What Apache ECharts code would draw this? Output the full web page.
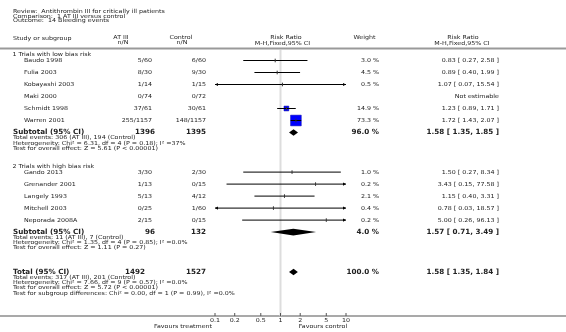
<!DOCTYPE html>
<html lang="en">
<head>
<meta charset="UTF-8">
<title>Bleeding events</title>
<script type="text/javascript" src="https://cdn.jsdelivr.net/npm/echarts@6/dist/echarts.min.js"></script>
<style>html,body{margin:0;padding:0;background:#fff}</style>
</head>
<body>
<div id="main" style="width: 566px; height: 332px;"></div>

<script type="text/javascript">
// study level data
var studyNames = ['Baudo 1998', 'Fulia 2003', 'Kobayashi 2003', 'Maki 2000', 'Schmidt 1998', 'Warren 2001',
                  'Gando 2013', 'Grenander 2001', 'Langely 1993', 'Mitchell 2003', 'Neporada 2008A'];
var studyGroup = [0, 0, 0, 0, 0, 0, 1, 1, 1, 1, 1];
var treatEvents = ['5/60', '8/30', '1/14', '0/74', '37/61', '255/1157', '3/30', '1/13', '5/13', '0/25', '2/15'];
var ctrlEvents = ['6/60', '9/30', '1/15', '0/72', '30/61', '148/1157', '2/30', '0/15', '4/12', '1/60', '0/15'];
var riskRatio = [0.83, 0.89, 1.07, null, 1.23, 1.72, 1.50, 3.43, 1.15, 0.78, 5.00];
var ciLow = [0.27, 0.40, 0.07, null, 0.89, 1.43, 0.27, 0.15, 0.40, 0.03, 0.26];
var ciHigh = [2.58, 1.99, 15.54, null, 1.71, 2.07, 8.34, 77.58, 3.31, 18.57, 96.13];
var weights = [3.0, 4.5, 0.5, null, 14.9, 73.3, 1.0, 0.2, 2.1, 0.4, 0.2];

// subgroups, then the overall total
var groupNames = ['1 Trials with low bias risk', '2 Trials with high bias risk'];
var pooledLabels = ['Subtotal (95% CI)', 'Subtotal (95% CI)', 'Total (95% CI)'];
var pooledTreatN = [1396, 96, 1492];
var pooledCtrlN = [1395, 132, 1527];
var pooledRr = [1.58, 1.57, 1.58];
var pooledLow = [1.35, 0.71, 1.35];
var pooledHigh = [1.85, 3.49, 1.84];
var pooledWeight = [96.0, 4.0, 100.0];
var pooledNotes = [
    ['Total events: 306 (AT III), 194 (Control)',
     'Heterogeneity: Chi\u00b2 = 6.31, df = 4 (P = 0.18); I\u00b2 =37%',
     'Test for overall effect: Z = 5.61 (P < 0.00001)'],
    ['Total events: 11 (AT III), 7 (Control)',
     'Heterogeneity: Chi\u00b2 = 1.35, df = 4 (P = 0.85); I\u00b2 =0.0%',
     'Test for overall effect: Z = 1.11 (P = 0.27)'],
    ['Total events: 317 (AT III), 201 (Control)',
     'Heterogeneity: Chi\u00b2 = 7.66, df = 9 (P = 0.57); I\u00b2 =0.0%',
     'Test for overall effect: Z = 5.72 (P < 0.00001)',
     'Test for subgroup differences: Chi\u00b2 = 0.00, df = 1 (P = 0.99), I\u00b2 =0.0%']
];
var titleLines = ['Review:  Antithrombin III for critically ill patients',
                  'Comparison:  1 AT III versus control',
                  'Outcome:  14 Bleeding events'];
var tickValues = [0.1, 0.2, 0.5, 1, 2, 5, 10];
var favourLabels = ['Favours treatment', 'Favours control'];

var AXMIN = 0.1, AXMAX = 10;
var FONT = 'DejaVu Sans';
var TXT = '#222';
// small text: short glyphs but wide advances, like hinted Verdana
var SM = 5.5, SX = 1.15, BIG = 7.2;
var AXIS_Y = 316;

// row layout (y in pixels, the y axis runs 0..332)
var studyY = [], pooledY = [], notesY = [], headerY = [];
var y = 55;
for (var g = 0; g < 2; g++) {
    headerY.push(y);
    y += 5.5;
    var first = true;
    for (var i = 0; i < studyNames.length; i++) {
        if (studyGroup[i] !== g) continue;
        if (!first) y += 12;
        first = false;
        studyY[i] = y;
    }
    y += 12;
    pooledY.push(y);
    y += 5.5;
    var ny = [];
    for (var k = 0; k < pooledNotes[g].length; k++) { ny.push(y); y += 5.2; }
    notesY.push(ny);
    y += 13;
}
y = y - 13 + 18.8;
pooledY.push(y);
y += 5.5;
var lastNotes = [];
for (var k = 0; k < pooledNotes[2].length; k++) { lastNotes.push(y); y += 5.2; }
notesY.push(lastNotes);

function txt(s, x, yy, align, size, bold) {
    return {
        type: 'text', x: x, y: yy, silent: true,
        scaleX: bold ? 1 : SX,
        style: {
            text: s, fill: TXT, fontFamily: FONT, fontSize: size || SM,
            fontWeight: bold ? 'bold' : 'normal',
            align: align || 'left', verticalAlign: 'middle'
        }
    };
}
function fmtRr(r, lo, hi) {
    return r.toFixed(2) + ' [ ' + lo.toFixed(2) + ', ' + hi.toFixed(2) + ' ]';
}

var graphics = [];
titleLines.forEach(function (s, i) { graphics.push(txt(s, 13, 11.5 + i * 4.7)); });
graphics.push(txt('Study or subgroup', 13, 38.5));
graphics.push(txt('AT III', 121, 37.5, 'center'));
graphics.push(txt('n/N', 123, 43, 'center'));
graphics.push(txt('Control', 181, 37.5, 'center'));
graphics.push(txt('n/N', 182, 43, 'center'));
graphics.push(txt('Risk Ratio', 286, 37.5, 'center'));
graphics.push(txt('M-H,Fixed,95% CI', 282.5, 43.5, 'center'));
graphics.push(txt('Weight', 364.5, 37.5, 'center'));
graphics.push(txt('Risk Ratio', 463, 37.5, 'center'));
graphics.push(txt('M-H,Fixed,95% CI', 462, 43.5, 'center'));
graphics.push({type: 'line', silent: true, shape: {x1: 0, y1: 48.5, x2: 566, y2: 48.5}, style: {stroke: '#999', lineWidth: 2}});
graphics.push({type: 'line', silent: true, shape: {x1: 0, y1: AXIS_Y, x2: 566, y2: AXIS_Y}, style: {stroke: '#555', lineWidth: 1.2}});

groupNames.forEach(function (s, g) { graphics.push(txt(s, 12.5, headerY[g])); });
studyNames.forEach(function (s, i) {
    var yy = studyY[i];
    graphics.push(txt(s, 24, yy));
    graphics.push(txt(treatEvents[i], 152, yy, 'right'));
    graphics.push(txt(ctrlEvents[i], 206, yy, 'right'));
    if (riskRatio[i] == null) {
        graphics.push(txt('Not estimable', 499, yy, 'right'));
    } else {
        graphics.push(txt(weights[i].toFixed(1) + ' %', 379, yy, 'right'));
        graphics.push(txt(fmtRr(riskRatio[i], ciLow[i], ciHigh[i]), 499, yy, 'right'));
    }
});
pooledLabels.forEach(function (s, p) {
    var yy = pooledY[p];
    graphics.push(txt(s, 13, yy, 'left', BIG, true));
    graphics.push(txt(String(pooledTreatN[p]), p === 2 ? 145 : 155, yy, 'right', BIG, true));
    graphics.push(txt(String(pooledCtrlN[p]), 206, yy, 'right', BIG, true));
    graphics.push(txt(pooledWeight[p].toFixed(1) + ' %', 379, yy, 'right', BIG, true));
    graphics.push(txt(fmtRr(pooledRr[p], pooledLow[p], pooledHigh[p]), 499, yy, 'right', BIG, true));
    pooledNotes[p].forEach(function (n, k) { graphics.push(txt(n, 13, notesY[p][k])); });
});
graphics.push(txt(favourLabels[0], 183, 327, 'center'));
graphics.push(txt(favourLabels[1], 323, 327, 'center'));

var studyData = [];
riskRatio.forEach(function (r, i) {
    if (r != null) studyData.push([r, ciLow[i], ciHigh[i], studyY[i], weights[i]]);
});
var pooledData = pooledRr.map(function (r, p) { return [r, pooledLow[p], pooledHigh[p], pooledY[p]]; });

function arrow(pt, dir) {
    return {type: 'polygon', shape: {points: [[pt[0], pt[1]], [pt[0] - dir * 3, pt[1] - 1.6], [pt[0] - dir * 3, pt[1] + 1.6]]},
            style: {fill: '#000'}};
}

function renderStudy(params, api) {
    var r = api.value(0), lo = api.value(1), hi = api.value(2), yy = api.value(3), w = api.value(4);
    var p0 = api.coord([Math.max(lo, AXMIN), yy]);
    var p1 = api.coord([Math.min(hi, AXMAX), yy]);
    var pm = api.coord([r, yy]);
    var kids = [];
    // box side grows with the study weight; tiny weights only get the tick
    var side = 1.25 * Math.sqrt(w);
    if (side > 3) {
        kids.push({type: 'rect', shape: {x: pm[0] - side / 2, y: pm[1] - side / 2, width: side, height: side},
                   style: {fill: '#0000ff', stroke: '#0000aa', lineWidth: 0.5}});
    }
    kids.push({type: 'line', shape: {x1: p0[0], y1: p0[1], x2: p1[0], y2: p1[1]}, style: {stroke: '#000', lineWidth: 1}});
    kids.push({type: 'line', shape: {x1: pm[0], y1: pm[1] - 1.8, x2: pm[0], y2: pm[1] + 1.8}, style: {stroke: '#333', lineWidth: 1}});
    if (lo < AXMIN) kids.push(arrow(p0, -1));
    if (hi > AXMAX) kids.push(arrow(p1, 1));
    return {type: 'group', children: kids};
}

function renderDiamond(params, api) {
    var yy = api.value(3);
    var a = api.coord([api.value(1), yy]), m = api.coord([api.value(0), yy]), b = api.coord([api.value(2), yy]);
    return {type: 'polygon', shape: {points: [a, [m[0], m[1] - 3.3], b, [m[0], m[1] + 3.3]]}, style: {fill: '#000'}};
}

function renderTick(params, api) {
    var p = api.coord([api.value(0), AXIS_Y]);
    return {type: 'group', children: [
        {type: 'line', shape: {x1: p[0], y1: p[1], x2: p[0], y2: p[1] - 3}, style: {stroke: '#555', lineWidth: 1}},
        {type: 'text', x: p[0], y: p[1] + 4.5, scaleX: SX,
         style: {text: String(api.value(0)), fill: TXT, fontFamily: FONT, fontSize: SM, align: 'center', verticalAlign: 'middle'}}
    ]};
}

function renderRef(params, api) {
    var a = api.coord([api.value(0), 50]), b = api.coord([api.value(0), AXIS_Y]);
    return {type: 'line', shape: {x1: a[0], y1: a[1], x2: b[0], y2: b[1]}, style: {stroke: '#ddd', lineWidth: 2}};
}

var myChart = echarts.init(document.getElementById('main'));
myChart.setOption({
    animation: false,
    grid: {left: 215, right: 220, top: 0, bottom: 0},
    xAxis: {type: 'log', logBase: 10, min: AXMIN, max: AXMAX, show: false},
    yAxis: {type: 'value', min: 0, max: 332, inverse: true, show: false},
    graphic: graphics,
    series: [
        {type: 'custom', name: 'ref', clip: false, z: 1, renderItem: renderRef, data: [[1]]},
        {type: 'custom', name: 'studies', clip: false, z: 3, renderItem: renderStudy, data: studyData},
        {type: 'custom', name: 'pooled', clip: false, z: 3, renderItem: renderDiamond, data: pooledData},
        {type: 'custom', name: 'ticks', clip: false, z: 3, renderItem: renderTick, data: tickValues.map(function (v) { return [v]; })}
    ]
});
</script>
</body>
</html>
